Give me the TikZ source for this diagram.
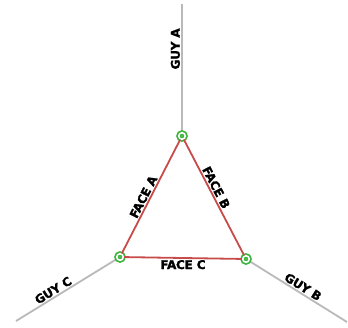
\documentclass[tikz,border=0pt]{standalone}
\usepackage{fontspec}
\newfontfamily\tagfont{DejaVu Sans Bold}[FakeBold=1.5, LetterSpace=-2]
\definecolor{guygray}{RGB}{185,185,185}
\definecolor{facered}{RGB}{200,75,75}
\definecolor{ringgreen}{RGB}{60,180,60}
\tikzset{
	ring/.style={circle, draw=ringgreen, double=white, double distance=1.6pt, line width=1.7pt, fill=white, minimum size=6.5pt, inner sep=0pt},
	guy/.style={draw=guygray, line width=1.8pt},
	face/.style={draw=facered, line width=1.8pt},
	tag/.style={font=\tagfont\fontsize{12}{12}\selectfont, inner sep=1.2pt}
}
\begin{document}
\begin{tikzpicture}[x=1pt, y=-1pt]
\useasboundingbox (0,0) rectangle (348,327);

\coordinate (endA) at (182,4);
\coordinate (endB) at (347,322);
\coordinate (endC) at (16,321);

% Vientos
	\draw[guy] (182,136) -- (endA) node[tag, sloped, above, pos=0.66] {GUY A};
	\draw[guy] (246,259) -- (endB) node[tag, sloped, above, pos=0.53] {GUY B};
	\draw[guy] (endC) -- (120,257) node[tag, sloped, above, pos=0.39] {GUY C};

% Caras
	\node[ring] (top) at (182,136) {};
	\node[ring] (right) at (246,259) {};
	\node[ring] (left) at (120,257) {};

	\draw[face] (left) -- (top) node[tag, sloped, above, pos=0.47] {FACE A};
	\draw[face] (top) -- (right) node[tag, sloped, above, pos=0.44] {FACE B};
	\draw[face] (left) -- (right) node[tag, below, pos=0.5] {FACE C};

\end{tikzpicture}
\end{document}
